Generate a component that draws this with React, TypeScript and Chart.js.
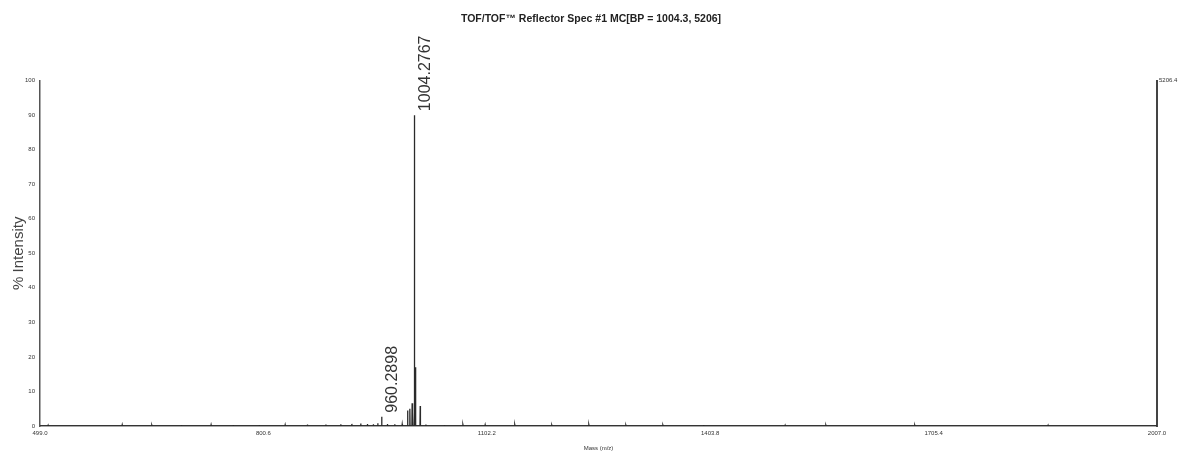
import React, { useEffect, useRef } from "react";
import { Chart, registerables } from "chart.js";

Chart.register(...registerables);

const TITLE = "TOF/TOF\u2122 Reflector Spec #1 MC[BP = 1004.3, 5206]";
const X_TITLE = "Mass (m/z)";
const Y_TITLE = "% Intensity";

// x tick positions / labels (m/z)
const xTicks = [499.0, 800.6, 1102.2, 1403.8, 1705.4, 2007.0];
const xTickLabels = ["499.0", "800.6", "1102.2", "1403.8", "1705.4", "2007.0"];
const yTicks = [0, 10, 20, 30, 40, 50, 60, 70, 80, 90, 100];
const rightAxisLabel = "5206.4";

// main peaks (m/z, % intensity)
const peakMz = [960.29, 995.3, 998.3, 1001.4, 1002.3, 1004.28, 1005.28, 1006.3, 1012.3];
const peakIntensity = [2.7, 4.5, 5.0, 6.6, 4.0, 90, 17, 5.0, 5.8];

// labelled peaks
const labelMz = [960.2898, 1004.2767];
const labelIntensity = [2.7, 90];

// baseline noise peaks
const noiseMz = [510, 540, 575, 610, 650, 690, 730, 760, 795, 830, 860, 885, 905, 920, 932, 941, 949, 955, 968, 978, 988, 1020, 1045, 1070, 1100, 1140, 1190, 1240, 1290, 1340, 1395, 1450, 1505, 1560, 1620, 1680, 1740, 1800, 1860, 1920, 1975];
const noiseIntensity = [0.2, 0.2, 0.2, 0.3, 0.2, 0.3, 0.3, 0.3, 0.3, 0.3, 0.4, 0.4, 0.5, 0.6, 0.7, 0.6, 0.5, 0.8, 0.6, 0.5, 0.5, 0.4, 0.3, 0.3, 0.3, 0.3, 0.2, 0.3, 0.2, 0.2, 0.3, 0.2, 0.2, 0.2, 0.2, 0.2, 0.2, 0.2, 0.2, 0.2, 0.1];

const X_MIN = 499.0;
const X_MAX = 2007.0;

function buildSticks(mz: number[], inten: number[]) {
  const pts: { x: number; y: number }[] = [];
  const items = mz.map((m, i) => ({ m, h: inten[i] })).sort((a, b) => a.m - b.m);
  pts.push({ x: X_MIN, y: 0 });
  for (const it of items) {
    pts.push({ x: it.m - 0.3, y: 0 });
    pts.push({ x: it.m, y: it.h });
    pts.push({ x: it.m + 0.3, y: 0 });
  }
  pts.push({ x: X_MAX, y: 0 });
  return pts;
}

const peakLabelPlugin = {
  id: "peakLabels",
  afterDatasetsDraw(chart: any) {
    const { ctx, scales } = chart;
    ctx.save();
    ctx.fillStyle = "#333";
    ctx.font = "16px 'Liberation Sans', Arial, sans-serif";
    ctx.textAlign = "left";
    ctx.textBaseline = "top";
    labelMz.forEach((m, i) => {
      const px = scales.x.getPixelForValue(m);
      const py = scales.y.getPixelForValue(labelIntensity[i]);
      ctx.save();
      ctx.translate(px + 3, py - 4);
      ctx.rotate(-Math.PI / 2);
      ctx.fillText(m.toFixed(4), 0, 0);
      ctx.restore();
    });
    ctx.restore();
  },
};

export default function App() {
  const ref = useRef<HTMLCanvasElement | null>(null);
  useEffect(() => {
    if (!ref.current) return;
    const data = buildSticks([...peakMz, ...noiseMz], [...peakIntensity, ...noiseIntensity]);
    const chart = new Chart(ref.current, {
      type: "line",
      data: {
        datasets: [
          {
            data,
            borderColor: "#2a2a2a",
            borderWidth: 1.3,
            pointRadius: 0,
            tension: 0,
            fill: false,
          },
        ],
      },
      options: {
        animation: false,
        responsive: false,
        parsing: false as any,
        layout: { padding: { top: 0, left: 0, right: 0, bottom: 0 } },
        plugins: {
          legend: { display: false },
          tooltip: { enabled: false },
          title: {
            display: true,
            text: TITLE,
            color: "#222",
            font: { family: "'Liberation Sans', Arial, sans-serif", size: 10.5, weight: "bold" },
            padding: { top: 13, bottom: 55 },
          },
        },
        scales: {
          x: {
            type: "linear",
            min: X_MIN,
            max: X_MAX,
            afterBuildTicks: (s: any) => {
              s.ticks = xTicks.map((v) => ({ value: v }));
            },
            afterFit: (s: any) => {
              s.height = 26;
            },
            ticks: {
              callback: (v: any) => {
                const i = xTicks.findIndex((t) => Math.abs(t - Number(v)) < 0.01);
                return i >= 0 ? xTickLabels[i] : "";
              },
              font: { size: 6, family: "'Liberation Sans', sans-serif" },
              color: "#333",
              maxRotation: 0,
              autoSkip: false,
              padding: 1,
            },
            grid: { display: false, drawTicks: true, tickLength: 3, color: "#444" } as any,
            border: { display: true, color: "#555", width: 1.5 },
            title: {
              display: true,
              text: X_TITLE,
              font: { size: 6, family: "'Liberation Sans', sans-serif" },
              color: "#333",
              padding: { top: 2, bottom: 0 },
            },
          },
          y: {
            type: "linear",
            position: "left",
            min: 0,
            max: 100,
            afterBuildTicks: (s: any) => {
              s.ticks = yTicks.map((v) => ({ value: v }));
            },
            afterFit: (s: any) => {
              s.width = 40;
            },
            ticks: {
              font: { size: 6, family: "'Liberation Sans', sans-serif" },
              color: "#333",
              padding: 2,
            },
            grid: { display: false, drawTicks: true, tickLength: 3 } as any,
            border: { display: true, color: "#555", width: 1.5 },
            title: {
              display: true,
              text: Y_TITLE,
              font: { size: 15, family: "'Liberation Sans', sans-serif" },
              color: "#444",
              padding: { top: 10, bottom: 0 },
            },
          },
          y2: {
            type: "linear",
            position: "right",
            min: 0,
            max: 100,
            afterBuildTicks: (s: any) => {
              s.ticks = [{ value: 100 }];
            },
            afterFit: (s: any) => {
              s.width = 25;
            },
            ticks: {
              callback: () => rightAxisLabel,
              font: { size: 6, family: "'Liberation Sans', sans-serif" },
              color: "#333",
              padding: 2,
            },
            grid: { display: false, drawTicks: false } as any,
            border: { display: true, color: "#444", width: 2 },
          },
        },
      } as any,
      plugins: [peakLabelPlugin],
    });
    return () => chart.destroy();
  }, []);
  return (
    <div style={{ position: "absolute", left: 0, top: 0, width: 1182, height: 452, background: "#fff" }}>
      <canvas ref={ref} width={1182} height={452} style={{ width: 1182, height: 452, display: "block" }} />
    </div>
  );
}
